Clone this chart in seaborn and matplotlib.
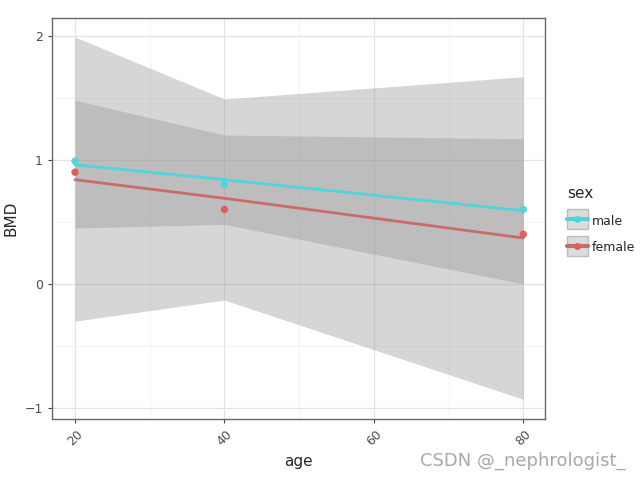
import numpy as np
import pandas as pd
import matplotlib.pyplot as plt
from matplotlib.lines import Line2D
from matplotlib.patches import Patch, Rectangle
from matplotlib.legend_handler import HandlerTuple, HandlerPatch
from matplotlib.ticker import MultipleLocator
import seaborn as sns

# data
age = [20, 40, 80]
bmd_male = [0.99, 0.80, 0.60]
bmd_female = [0.90, 0.60, 0.40]
fit_male = [0.96, 0.84, 0.59]
fit_female = [0.84, 0.69, 0.37]
lo_male = [0.45, 0.48, 0.00]
hi_male = [1.48, 1.20, 1.17]
lo_female = [-0.30, -0.13, -0.93]
hi_female = [1.99, 1.49, 1.67]

colors = {"male": "#4fd6dd", "female": "#e05e58"}
line_colors = {"male": "#4fd6dd", "female": "#c96c69"}

pts = pd.DataFrame({
    "age": age * 2,
    "BMD": bmd_male + bmd_female,
    "sex": ["male"] * 3 + ["female"] * 3,
})
fits = pd.DataFrame({
    "age": age * 2,
    "BMD": fit_male + fit_female,
    "sex": ["male"] * 3 + ["female"] * 3,
})

sns.set_style("white")
fig = plt.figure(figsize=(6.4, 4.8), dpi=100)
ax = fig.add_axes([0.081, 0.127, 0.771, 0.836])

# confidence bands
ax.fill_between(age, lo_female, hi_female, color="#999999", alpha=0.4, lw=0, zorder=1)
ax.fill_between(age, lo_male, hi_male, color="#999999", alpha=0.4, lw=0, zorder=1)

sns.lineplot(data=fits, x="age", y="BMD", hue="sex", palette=line_colors,
             linewidth=2, legend=False, ax=ax, zorder=3)
sns.scatterplot(data=pts, x="age", y="BMD", hue="sex", palette=colors,
                s=28, linewidth=0, legend=False, ax=ax, zorder=4)

ax.set_xlim(16.9, 82.95)
ax.set_ylim(-1.089, 2.145)
ax.xaxis.set_major_locator(MultipleLocator(20))
ax.xaxis.set_minor_locator(MultipleLocator(10))
ax.yaxis.set_major_locator(MultipleLocator(1))
ax.yaxis.set_minor_locator(MultipleLocator(0.5))
ax.grid(which="major", color="#e3e3e3", lw=0.9, zorder=0)
ax.grid(which="minor", color="#f0f0f0", lw=0.6, zorder=0)
ax.set_axisbelow(True)
for s in ax.spines.values():
    s.set_color("#666666")
    s.set_linewidth(1)
ax.tick_params(axis="both", which="major", length=3, width=0.8, color="#444444",
               labelsize=9, labelcolor="#4d4d4d", direction="out", bottom=True, left=True)
ax.tick_params(which="minor", length=0)
ax.set_yticks([-1, 0, 1, 2])
ax.set_yticklabels(["\u22121", "0", "1", "2"])
for lab in ax.get_xticklabels():
    lab.set_rotation(45)
ax.set_xlabel("age", fontsize=11)
ax.set_ylabel("BMD", fontsize=11)


# legend key: gray box centred on the line, point on top
def key_box(legend, orig_handle, xdescent, ydescent, width, height, fontsize):
    cy = (height - ydescent) / 2
    h = 20 * 72 / 100
    return Rectangle((-xdescent, cy - h / 2), width, h)


handles = []
for k in ["male", "female"]:
    handles.append((Patch(facecolor="#dcdcdc", edgecolor="#bdbdbd", lw=1),
                    Line2D([], [], color=line_colors[k], lw=3),
                    Line2D([], [], color=colors[k], marker="o", ms=4, lw=0)))
leg = fig.legend(handles, ["male", "female"], title="sex", loc="upper left",
                 bbox_to_anchor=(0.872, 0.63), frameon=False, fontsize=9,
                 title_fontsize=11, handlelength=1.7, handleheight=1.3,
                 handletextpad=0.3, labelspacing=1.0, borderpad=0.2,
                 handler_map={tuple: HandlerTuple(ndivide=1, pad=0),
                              Patch: HandlerPatch(patch_func=key_box)})
leg._legend_box.align = "left"

fig.text(0.977, 0.04, "CSDN @_nephrologist_", ha="right", va="center",
         fontsize=13, color="#a8a8a8", family=["Liberation Sans Narrow", "DejaVu Sans"])

fig.savefig("out.png", dpi=100)
